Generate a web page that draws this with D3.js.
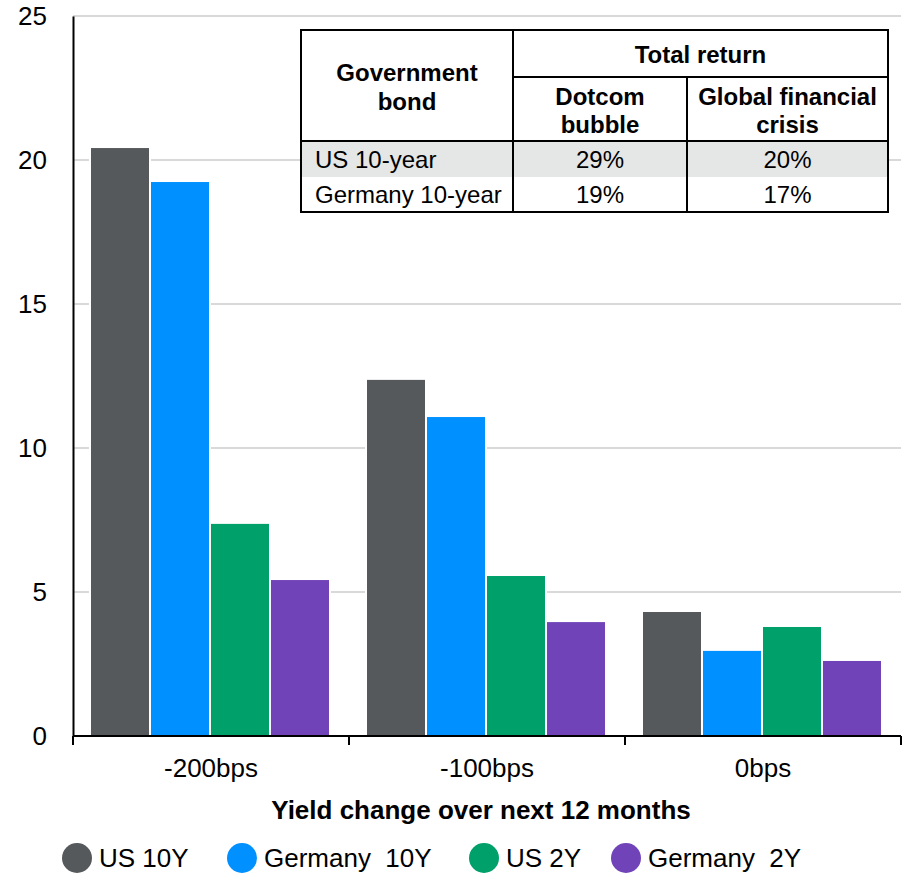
<!DOCTYPE html>
<html>
<head>
<meta charset="utf-8">
<script src="https://cdn.jsdelivr.net/npm/d3@7"></script>
<style>
  body { margin: 0; background: #fff; font-family: "Liberation Sans", Arial, sans-serif; }
</style>
</head>
<body>
<div id="chart"></div>
<script>
// Data
const categories = ["-200bps", "-100bps", "0bps"];
const seriesNames = ["US 10Y", "Germany  10Y", "US 2Y", "Germany  2Y"];
const seriesColors = ["#55595c", "#0090ff", "#00a06a", "#7044b8"];
const us10y = [20.45, 12.4, 4.34];
const germany10y = [19.27, 11.11, 2.99];
const us2y = [7.4, 5.59, 3.82];
const germany2y = [5.45, 3.99, 2.64];
const yTicks = [0, 5, 10, 15, 20, 25];

const tableHeader = ["Government bond", "Total return", "Dotcom bubble", "Global financial crisis"];
const tableRows = ["US 10-year", "Germany 10-year"];
const dotcom = ["29%", "19%"];
const gfc = ["20%", "17%"];

const allSeries = [us10y, germany10y, us2y, germany2y];

const width = 920;
const height = 875;
const margin = { top: 16, left: 73, right: 19, bottom: 139 };

const svg = d3
  .select("#chart")
  .append("svg")
  .attr("width", width)
  .attr("height", height)
  .style("font-family", "'Liberation Sans', Arial, sans-serif");

const xScale = d3
  .scaleBand()
  .domain(categories)
  .range([margin.left, width - margin.right]);

const xInner = d3
  .scaleBand()
  .domain(d3.range(seriesNames.length))
  .range([0, xScale.bandwidth()])
  .paddingOuter(0.3);

const yScale = d3
  .scaleLinear()
  .domain([0, 25])
  .range([height - margin.bottom, margin.top]);

// Gridlines
svg
  .append("g")
  .selectAll("line")
  .data(yTicks.filter((t) => t > 0))
  .enter()
  .append("line")
  .attr("x1", margin.left)
  .attr("x2", width - margin.right)
  .attr("y1", (d) => yScale(d))
  .attr("y2", (d) => yScale(d))
  .style("stroke", "#d9d9d9")
  .style("stroke-width", 2);

// Bars
const groups = svg
  .append("g")
  .selectAll("g")
  .data(categories)
  .enter()
  .append("g")
  .attr("transform", (d) => `translate(${xScale(d) - 1},0)`);

groups
  .selectAll("rect")
  .data((d, i) => allSeries.map((s, j) => ({ j: j, value: s[i] })))
  .enter()
  .append("rect")
  .attr("x", (d) => xInner(d.j))
  .attr("y", (d) => yScale(d.value))
  .attr("width", xInner.bandwidth())
  .attr("height", (d) => yScale(0) - yScale(d.value))
  .style("fill", (d) => seriesColors[d.j])
  .style("stroke", "#fff")
  .style("stroke-width", 2);

// Axes
const yAxis = svg
  .append("g")
  .attr("transform", `translate(${margin.left}, 0)`)
  .call(d3.axisLeft(yScale).tickValues(yTicks).tickSize(0).tickPadding(26));
yAxis.select(".domain").style("stroke", "#000").style("stroke-width", 2);
yAxis.selectAll("text").style("font-size", "26px").style("fill", "#000").attr("font-family", null);

const xAxisG = svg.append("g").attr("transform", `translate(0, ${yScale(0)})`);
xAxisG
  .append("line")
  .attr("x1", margin.left)
  .attr("x2", width - margin.right)
  .style("stroke", "#000")
  .style("stroke-width", 2);
xAxisG
  .selectAll(".tk")
  .data(categories.concat([null]))
  .enter()
  .append("line")
  .attr("x1", (d, i) => margin.left + i * xScale.step())
  .attr("x2", (d, i) => margin.left + i * xScale.step())
  .attr("y1", 0)
  .attr("y2", 9)
  .style("stroke", "#000")
  .style("stroke-width", 2);
xAxisG
  .selectAll("text")
  .data(categories)
  .enter()
  .append("text")
  .attr("x", (d) => xScale(d) + xScale.bandwidth() / 2)
  .attr("y", 41)
  .attr("text-anchor", "middle")
  .style("font-size", "26px")
  .text((d) => d);

svg
  .append("text")
  .attr("x", 481)
  .attr("y", 819)
  .attr("text-anchor", "middle")
  .style("font-size", "26px")
  .style("font-weight", "bold")
  .text("Yield change over next 12 months");

// Legend
const legendX = [77, 242, 484, 626];
const legend = svg
  .append("g")
  .selectAll("g")
  .data(seriesNames)
  .enter()
  .append("g")
  .attr("transform", (d, i) => `translate(${legendX[i]}, 858)`);
legend.append("circle").attr("r", 15).style("fill", (d, i) => seriesColors[i]);
legend
  .append("text")
  .attr("x", 22)
  .attr("y", 9)
  .style("font-size", "26px")
  .style("white-space", "pre")
  .attr("xml:space", "preserve")
  .text((d) => d);

// Table
const tX = [301, 513, 687, 888];
const tY = [30, 77, 141, 177, 212];
const table = svg.append("g");
table
  .append("rect")
  .attr("x", tX[0])
  .attr("y", tY[0])
  .attr("width", tX[3] - tX[0])
  .attr("height", tY[4] - tY[0])
  .style("fill", "#fff");
table
  .append("rect")
  .attr("x", tX[0])
  .attr("y", tY[2])
  .attr("width", tX[3] - tX[0])
  .attr("height", tY[3] - tY[2])
  .style("fill", "#e5e6e6");

const tableLines = [
  [tX[0], tY[0], tX[3], tY[0]],
  [tX[1], tY[1], tX[3], tY[1]],
  [tX[0], tY[2], tX[3], tY[2]],
  [tX[0], tY[4], tX[3], tY[4]],
  [tX[0], tY[0], tX[0], tY[4]],
  [tX[1], tY[0], tX[1], tY[4]],
  [tX[2], tY[1], tX[2], tY[4]],
  [tX[3], tY[0], tX[3], tY[4]],
];
table
  .selectAll("line")
  .data(tableLines)
  .enter()
  .append("line")
  .attr("x1", (d) => d[0])
  .attr("y1", (d) => d[1])
  .attr("x2", (d) => d[2])
  .attr("y2", (d) => d[3])
  .style("stroke", "#000")
  .style("stroke-width", 2)
  .style("stroke-linecap", "square");

function cellText(x, y, lines, bold, anchor) {
  const t = table
    .append("text")
    .attr("x", x)
    .attr("text-anchor", anchor || "middle")
    .style("font-size", "24px")
    .style("font-weight", bold ? "bold" : "normal");
  lines.forEach((l, i) => {
    t.append("tspan").attr("x", x).attr("y", y + i * 28.5).text(l);
  });
}

cellText((tX[0] + tX[1]) / 2, 81, ["Government", "bond"], true);
cellText((tX[1] + tX[3]) / 2, 62.5, [tableHeader[1]], true);
cellText((tX[1] + tX[2]) / 2, 104.5, ["Dotcom", "bubble"], true);
cellText((tX[2] + tX[3]) / 2, 104.5, ["Global financial", "crisis"], true);
tableRows.forEach((r, i) => {
  const y = (tY[2 + i] + tY[3 + i]) / 2 + 8.5;
  cellText(tX[0] + 14, y, [r], false, "start");
  cellText((tX[1] + tX[2]) / 2, y, [dotcom[i]], false);
  cellText((tX[2] + tX[3]) / 2, y, [gfc[i]], false);
});
</script>
</body>
</html>
